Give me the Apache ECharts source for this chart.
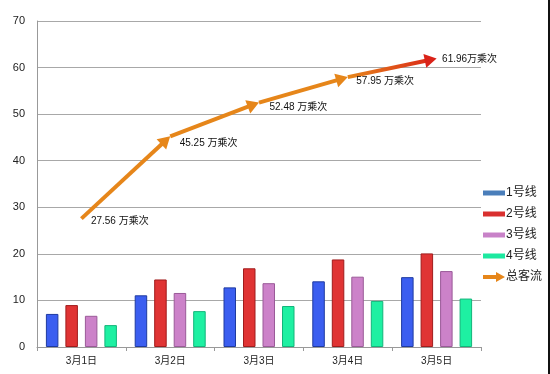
<!DOCTYPE html>
<html>
<head>
<meta charset="utf-8">
<script src="https://cdn.jsdelivr.net/npm/echarts@6/dist/echarts.min.js"></script>
<style>html,body{margin:0;padding:0;background:#fff}#c{width:550px;height:374px}</style>
</head>
<body>
<div id="c"></div>
<script>
var categories = ['3月1日', '3月2日', '3月3日', '3月4日', '3月5日'];
var line1 = [7.1, 11.1, 12.8, 14.1, 15.0];
var line2 = [9.0, 14.5, 16.9, 18.8, 20.1];
var line3 = [6.7, 11.6, 13.7, 15.1, 16.3];
var line4 = [4.7, 7.7, 8.8, 9.9, 10.4];
var totals = [27.56, 45.25, 52.48, 57.95, 61.96];
var totalLabels = ['27.56 万乘次', '45.25 万乘次', '52.48 万乘次', '57.95 万乘次', '61.96万乘次'];
var yTicks = [0, 10, 20, 30, 40, 50, 60, 70];
var seriesNames = ['1号线', '2号线', '3号线', '4号线', '总客流'];

// styles (not data)
var barColors = ['#3b5ef0', '#e03434', '#cc82c9', '#1ef0a2'];
var barBorders = ['#1e3aa0', '#a01c1c', '#9a5a98', '#12b47a'];
var legendColors = ['#4a7eba', '#d9302f', '#c882c8', '#1de9a0'];
var labelPositions = [[10, 3], [10, 7], [11, 5], [9, 5], [6, 1]];
var orange = '#e6861a';
var red = '#da2218';

var chart = echarts.init(document.getElementById('c'));
var font = "'Liberation Sans', Arial, 'Noto Sans CJK SC', sans-serif";

var barSeries = [line1, line2, line3, line4].map(function (vals, i) {
  return {
    name: seriesNames[i],
    type: 'bar',
    data: vals,
    barWidth: 12.5,
    barGap: '56%',
    itemStyle: { color: barColors[i], borderColor: barBorders[i], borderWidth: 1 }
  };
});

// arrow segments between consecutive totals
var segData = [];
for (var i = 0; i < totals.length - 1; i++) {
  segData.push([i, totals[i], i + 1, totals[i + 1]]);
}

function renderArrow(params, api) {
  var p0 = api.coord([api.value(0), api.value(1)]);
  var p1 = api.coord([api.value(2), api.value(3)]);
  var dx = p1[0] - p0[0], dy = p1[1] - p0[1];
  var len = Math.sqrt(dx * dx + dy * dy);
  var ux = dx / len, uy = dy / len;
  var headLen = 12, headHalf = 7;
  var bx = p1[0] - ux * headLen, by = p1[1] - uy * headLen;
  var last = params.dataIndex === segData.length - 1;
  var color = last ? new echarts.graphic.LinearGradient(p0[0], p0[1], p1[0], p1[1], [
    { offset: 0, color: orange }, { offset: 1, color: red }
  ], true) : orange;
  var headColor = last ? red : orange;
  return {
    type: 'group',
    children: [{
      type: 'line',
      shape: { x1: p0[0], y1: p0[1], x2: bx + ux * 1, y2: by + uy * 1 },
      style: { stroke: color, lineWidth: 4 }
    }, {
      type: 'polygon',
      shape: { points: [[p1[0], p1[1]], [bx - uy * headHalf, by + ux * headHalf], [bx + uy * headHalf, by - ux * headHalf]] },
      style: { fill: headColor }
    }]
  };
}

var lineData = totals.map(function (v, i) {
  return {
    value: v,
    label: { position: labelPositions[i], formatter: totalLabels[i] }
  };
});

var option = {
  animation: false,
  backgroundColor: '#fff',
  textStyle: { fontFamily: font },
  grid: { left: 37, right: 69, top: 21, bottom: 27 },
  legend: [{
    orient: 'vertical',
    left: 483,
    top: 187,
    padding: 0,
    itemWidth: 22,
    itemHeight: 5,
    itemGap: 9,
    textStyle: { fontSize: 12, color: '#222', fontFamily: font, padding: [0, 0, 0, -4] },
    data: seriesNames.slice(0, 4).map(function (n, i) {
      return { name: n, icon: 'rect', itemStyle: { color: legendColors[i], borderWidth: 0 } };
    })
  }, {
    orient: 'vertical',
    left: 483,
    top: 271,
    padding: 0,
    itemWidth: 22,
    itemHeight: 11,
    textStyle: { fontSize: 12, color: '#222', fontFamily: font, padding: [0, 0, 0, -4] },
    data: [{ name: seriesNames[4], icon: 'path://M0,3 L13,3 L13,0 L22,5 L13,10 L13,7 L0,7 Z', itemStyle: { color: orange } }]
  }],
  xAxis: {
    type: 'category',
    data: categories,
    axisLine: { lineStyle: { color: '#999' } },
    axisTick: { show: true, length: 4, lineStyle: { color: '#999' } },
    axisLabel: { fontSize: 10, color: '#222', margin: 9 }
  },
  yAxis: {
    type: 'value',
    min: yTicks[0],
    max: yTicks[yTicks.length - 1],
    interval: 10,
    axisLine: { show: true, lineStyle: { color: '#999' } },
    axisTick: { show: false },
    axisLabel: { fontSize: 11, color: '#222', margin: 12 },
    splitLine: { lineStyle: { color: '#a8a8a8' } }
  },
  series: barSeries.concat([{
    name: seriesNames[4],
    type: 'line',
    data: lineData,
    symbol: 'circle',
    symbolSize: 1,
    showSymbol: true,
    itemStyle: { color: 'rgba(0,0,0,0)' },
    lineStyle: { width: 0, opacity: 0 },
    label: { show: true, align: 'left', verticalAlign: 'middle', fontSize: 10, color: '#111', fontFamily: font },
    labelLayout: { hideOverlap: false },
    z: 6
  }, {
    name: 'arrows',
    type: 'custom',
    renderItem: renderArrow,
    data: segData,
    encode: { x: [0, 2], y: [1, 3] },
    silent: true,
    z: 5
  }]),
  graphic: [{
    type: 'rect',
    shape: { x: 548, y: 0, width: 2, height: 374 },
    style: { fill: '#111' }
  }]
};
chart.setOption(option);
</script>
</body>
</html>
